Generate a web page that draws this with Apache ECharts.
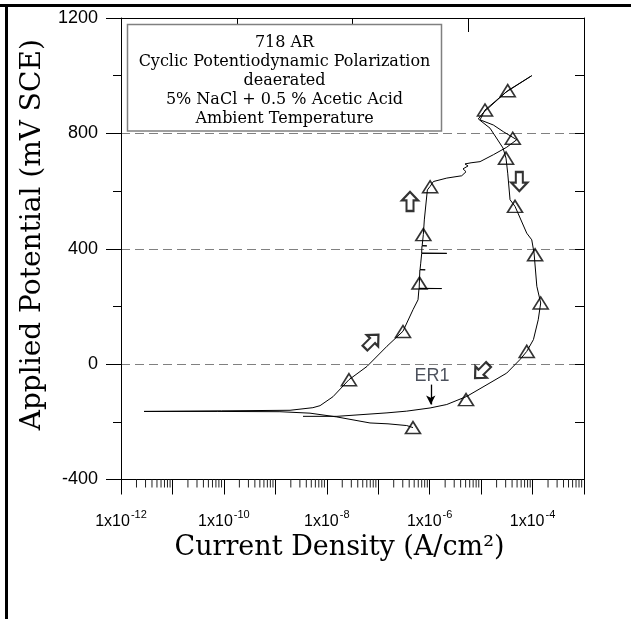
<!DOCTYPE html>
<html><head><meta charset="utf-8">
<script src="https://cdn.jsdelivr.net/npm/echarts@6/dist/echarts.min.js"></script>
<style>html,body{margin:0;padding:0;background:#fff}#c{width:631px;height:619px}</style>
</head><body><div id="c"></div>
<script>
// Forward scan (current density A/cm2, potential mV SCE)
const forwardI = [4.74e-7, 3.58e-7, 1.55e-7, 6.92e-8, 1.56e-8, 4.72e-9, 1.23e-9, 7.41e-11, 2.8e-12, 9e-11, 1.93e-9, 5.37e-9, 7.4e-9, 1.32e-8, 2.7e-8, 6.05e-8, 1.48e-7, 3.03e-7, 4.75e-7, 5.94e-7, 6.2e-7, 1.71e-6, 6.25e-7, 6.3e-7, 6.45e-7, 8.2e-7, 6.5e-7, 6.7e-7, 7.0e-7, 2.15e-6, 7.0e-7, 7.02e-7, 7.1e-7, 8.8e-7, 7.15e-7, 7.53e-7, 7.87e-7, 9.02e-7, 1.02e-6, 1.18e-6, 2.15e-6, 4.2e-6, 5.09e-6, 4.45e-6, 5.57e-6, 4.86e-6, 6.37e-6, 9.53e-6, 1.73e-5, 3.15e-5, 4.93e-5, 2.7e-5, 1.73e-5, 9.53e-6, 8.83e-6, 1.19e-5, 3.29e-5, 9.64e-5];
const forwardE = [-220, -213, -207, -204, -183, -170, -165, -164, -164, -162, -160, -151, -144, -113, -54, -8, 62, 114, 189, 223, 262, 262, 263, 281, 327, 327, 328, 350, 384, 384, 385, 396, 410, 410, 411, 449, 500, 604, 616, 633, 645, 653, 667, 677, 687, 694, 698, 702, 726, 752, 778, 806, 829, 847, 853, 881, 948, 1000];
// Reverse scan
const reverseI = [9.64e-5, 3.0e-5, 1.09e-5, 8.83e-6, 1.49e-5, 2.67e-5, 3.05e-5, 3.29e-5, 3.65e-5, 4.56e-5, 7.71e-5, 9.64e-5, 1.07e-4, 1.21e-4, 1.44e-4, 1.29e-4, 1.04e-4, 7.71e-5, 5.71e-5, 3.15e-5, 1.49e-5, 5.25e-6, 2.15e-6, 1.02e-6, 3.58e-7, 1.48e-7, 1.58e-8, 3.45e-9];
const reverseE = [1000, 942, 871, 850, 818, 749, 714, 662, 570, 547, 454, 431, 385, 270, 212, 154, 85, 44, 16, -31, -65, -112, -140, -152, -163, -169, -181, -181];
// Triangle markers along the curve
const markerI = [4.74e-7, 2.7e-8, 3.03e-7, 6.34e-7, 7.53e-7, 1.02e-6, 4.12e-5, 1.19e-5, 3.29e-5, 3.05e-5, 4.56e-5, 1.12e-4, 1.44e-4, 7.71e-5, 5.09e-6];
const markerE = [-220, -54, 113, 281, 449, 615, 783, 881, 948, 714, 547, 379, 212, 44, -123];
// Scan-direction arrows
const arrowI = [4.15e-7, 5.53e-5, 7.48e-8, 1.03e-5];
const arrowE = [564, 633, 79, -25];
const arrowAngle = [0, 180, -45, 135];
// ER1 annotation
const er1I = 1.05e-6;
const er1Label = [1.11e-6, -40];
const er1Arrow = [-71, -140];
// Axis ticks
const yLabels = [-400, 0, 400, 800, 1200];
const xDecades = [-12, -11, -10, -9, -8, -7, -6, -5, -4, -3];
const boxLines = ['718 AR', 'Cyclic Potentiodynamic Polarization', 'deaerated', '5% NaCl + 0.5 % Acetic Acid', 'Ambient Temperature'];

const lg = v => Math.log10(v);
const toXY = (I, E) => I.map((v, k) => [lg(v), E[k]]);
const minorTicks = [];
for (let d = 0; d < xDecades.length - 1; d++) {
  for (let k = 2; k <= 9; k++) minorTicks.push([xDecades[d] + Math.log10(k), -400]);
}

const chart = echarts.init(document.getElementById('c'));
const sans = 'Liberation Sans';
const serif = 'DejaVu Serif';
chart.setOption({
  animation: false,
  backgroundColor: '#fff',
  grid: { left: 121, right: 47, top: 18, bottom: 139.5, containLabel: false },
  xAxis: [{
    type: 'value', position: 'bottom', min: xDecades[0], max: xDecades[xDecades.length - 1], interval: 1,
    axisLine: { show: true, onZero: false, lineStyle: { color: '#000', width: 1 } },
    axisTick: { show: true, inside: false, length: 15, lineStyle: { color: '#000' } },
    splitLine: { show: false },
    axisLabel: {
      margin: 30,
      formatter: v => (Math.round(v) % 2 === 0) ? '{b|1x10}{s|' + Math.round(v) + '}' : '',
      rich: {
        b: { fontSize: 16, fontFamily: sans, color: '#000', lineHeight: 20, verticalAlign: 'bottom' },
        s: { fontSize: 11, fontFamily: sans, color: '#000', lineHeight: 20, verticalAlign: 'top', padding: [0, 0, 0, 1] }
      }
    },
    name: 'Current Density (A/cm²)', nameLocation: 'middle', nameGap: 48,
    nameTextStyle: { fontFamily: serif, fontSize: 27, color: '#000', padding: [0, 26, 0, 0] }
  }, {
    type: 'value', position: 'top', min: 0, max: 4, interval: 1,
    axisLine: { show: true, onZero: false, lineStyle: { color: '#000', width: 1 } },
    axisTick: { show: true, inside: true, length: 14, lineStyle: { color: '#000' } },
    axisLabel: { show: false }, splitLine: { show: false }
  }],
  yAxis: [{
    type: 'value', position: 'left', min: yLabels[0], max: yLabels[yLabels.length - 1], interval: 400,
    axisLine: { show: true, onZero: false, lineStyle: { color: '#000', width: 1 } },
    axisTick: { show: true, inside: false, length: 15, lineStyle: { color: '#000' } },
    axisLabel: { margin: 23, fontSize: 18, fontFamily: sans, color: '#000', formatter: v => String(v) },
    splitLine: { show: true, lineStyle: { color: '#808080', width: 1, type: [9, 5] } },
    name: 'Applied Potential (mV SCE)', nameLocation: 'middle', nameGap: 67,
    nameTextStyle: { fontFamily: serif, fontSize: 28, color: '#000', padding: [0, 0, 0, 28] }
  }, {
    type: 'value', position: 'left', min: -400, max: 1200, interval: 200,
    axisLine: { show: false, onZero: false },
    axisTick: { show: true, inside: false, length: 8, lineStyle: { color: '#000' } },
    axisLabel: { show: false }, splitLine: { show: false }
  }, {
    type: 'value', position: 'right', min: -400, max: 1200, interval: 200,
    axisLine: { show: true, onZero: false, lineStyle: { color: '#000', width: 1 } },
    axisTick: { show: true, inside: true, length: 9, lineStyle: { color: '#000' } },
    axisLabel: { show: false }, splitLine: { show: false }
  }],
  series: [{
    type: 'line', name: 'forward', data: toXY(forwardI, forwardE), showSymbol: false, symbol: 'none',
    lineStyle: { color: '#000', width: 1 }, silent: true, z: 3
  }, {
    type: 'line', name: 'reverse', data: toXY(reverseI, reverseE), showSymbol: false, symbol: 'none',
    lineStyle: { color: '#000', width: 1 }, silent: true, z: 3
  }, {
    type: 'scatter', name: 'markers', data: toXY(markerI, markerE), symbol: 'triangle', symbolSize: [15, 12],
    itemStyle: { color: 'rgba(255,255,255,0)', borderColor: '#000', borderWidth: 1.6 }, silent: true, z: 4
  }, {
    type: 'scatter', name: 'arrows',
    data: arrowI.map((v, k) => ({ value: [lg(v), arrowE[k]], symbolRotate: arrowAngle[k] })),
    symbol: 'path://M8,0L16,8L11.5,8L11.5,18L4.5,18L4.5,8L0,8Z', symbolSize: [16, 19],
    itemStyle: { color: '#fff', borderColor: '#000', borderWidth: 2.2 }, silent: true, z: 4
  }, {
    type: 'scatter', name: 'er1', data: [[lg(er1Label[0]), er1Label[1]]], symbolSize: 1,
    itemStyle: { color: 'rgba(0,0,0,0)' },
    label: { show: true, position: 'inside', formatter: 'ER1', fontFamily: sans, fontSize: 18, color: '#1f2633' },
    silent: true, z: 5,
    markLine: {
      silent: true, symbol: ['none', 'arrow'], symbolSize: [7, 9], label: { show: false },
      lineStyle: { color: '#000', width: 1.3, type: 'solid' },
      data: [[{ coord: [lg(er1I), er1Arrow[0]] }, { coord: [lg(er1I), er1Arrow[1]] }]]
    }
  }, {
    type: 'custom', name: 'minorTicks', data: minorTicks, encode: { x: 0, y: 1 }, silent: true, clip: false,
    renderItem: (params, api) => {
      const p = api.coord([api.value(0), api.value(1)]);
      return { type: 'line', shape: { x1: p[0], y1: p[1], x2: p[0], y2: p[1] + 8 }, style: { stroke: '#222', lineWidth: 1 } };
    }
  }],
  graphic: [
    { type: 'line', shape: { x1: 0, y1: 5.5, x2: 631, y2: 5.5 }, style: { stroke: '#000', lineWidth: 3 }, z: 100 },
    { type: 'line', shape: { x1: 6.5, y1: 4, x2: 6.5, y2: 619 }, style: { stroke: '#000', lineWidth: 3 }, z: 100 },
    { type: 'rect', shape: { x: 127.5, y: 24.5, width: 314, height: 106.5 }, style: { fill: '#fff', stroke: '#808080', lineWidth: 1.5 }, z: 50 },
    { type: 'text', x: 284.5, y: 81, z: 51,
      style: { text: boxLines.join('\n'), font: '16px "DejaVu Serif"', fill: '#000', align: 'center', verticalAlign: 'middle', textAlign: 'center', textVerticalAlign: 'middle', lineHeight: 19 } }
  ]
});
</script>
</body></html>
